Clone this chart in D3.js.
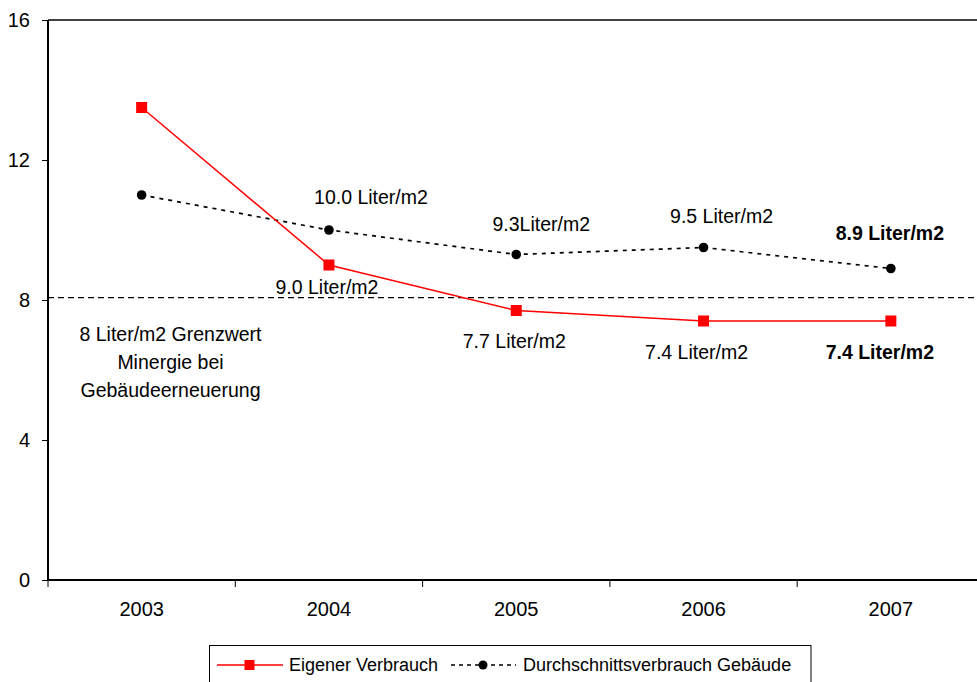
<!DOCTYPE html>
<html><head><meta charset="utf-8">
<script src="https://cdn.jsdelivr.net/npm/d3@7"></script>
<style>
body{margin:0;background:#fff;}
text{font-family:"Liberation Sans",Arial,sans-serif;}
</style></head>
<body><svg id="c" width="977" height="682"></svg>
<script>
const years = ["2003","2004","2005","2006","2007"];
const eigener = [13.5, 9.0, 7.7, 7.4, 7.4];
const durchschnitt = [11.0, 10.0, 9.3, 9.5, 8.9];
const grenzwert = 8.07;
const yTicks = [0, 4, 8, 12, 16];
const eigenerLabels = [null, "9.0 Liter/m2", "7.7 Liter/m2", "7.4 Liter/m2", "7.4 Liter/m2"];
const durchLabels = [null, "10.0 Liter/m2", "9.3Liter/m2", "9.5 Liter/m2", "8.9 Liter/m2"];
const grenzLabel = ["8 Liter/m2 Grenzwert", "Minergie bei", "Gebäudeerneuerung"];
const legendNames = ["Eigener Verbrauch", "Durchschnittsverbrauch Gebäude"];

// layout
const eigOff = [null, [-2, 22], [-2, 30], [-7, 31], [-11, 31]];
const durOff = [null, [42, -33], [25, -31], [18, -32], [-1, -36]];
const boldIdx = 4;
const FS = 19.5;

const svg = d3.select("#c");
const L = 48, R = 984.5, T = 20, B = 580;
const x = d3.scaleBand().domain(years).range([L, R]);
const y = d3.scaleLinear().domain([0, 16]).range([B, T]);
const cx = d => x(d) + x.bandwidth() / 2;

// frame: top line
svg.append("line").attr("x1", L).attr("x2", R).attr("y1", T).attr("y2", T)
  .attr("stroke", "#000").attr("stroke-width", 1.5);

// y axis
const ya = svg.append("g").attr("transform", `translate(${L},0)`)
  .call(d3.axisLeft(y).tickValues(yTicks).tickSize(6).tickPadding(12).tickFormat(d3.format("d")));
ya.select(".domain").attr("stroke-width", 2).attr("d", `M0,${B}V${T}`);
ya.selectAll("text").attr("font-size", 20).attr("fill", "#000").attr("font-family", "Liberation Sans, Arial");

// x axis
const xa = svg.append("g").attr("transform", `translate(0,${B})`)
  .call(d3.axisBottom(x).tickSize(0).tickPadding(22));
xa.select(".domain").attr("stroke-width", 2).attr("d", `M${L},0H${R}`);
xa.selectAll("text").attr("font-size", 20).attr("fill", "#000").attr("font-family", "Liberation Sans, Arial");
// category boundary ticks
xa.selectAll(".bt").data(years.concat(["end"])).enter().append("line")
  .attr("x1", (d, i) => L + i * x.bandwidth()).attr("x2", (d, i) => L + i * x.bandwidth())
  .attr("y1", 0).attr("y2", 7).attr("stroke", "#000").attr("stroke-width", 1);

// Grenzwert dashed line
svg.append("line").attr("x1", L).attr("x2", R).attr("y1", y(grenzwert)).attr("y2", y(grenzwert))
  .attr("stroke", "#000").attr("stroke-width", 1.3).attr("stroke-dasharray", "6,4");

// Durchschnitt line
const line = d3.line().x((d, i) => cx(years[i])).y(d => y(d));
svg.append("path").datum(durchschnitt).attr("d", line).attr("fill", "none")
  .attr("stroke", "#000").attr("stroke-width", 1.7).attr("stroke-dasharray", "4,5");
svg.selectAll(".dc").data(durchschnitt).enter().append("circle")
  .attr("cx", (d, i) => cx(years[i])).attr("cy", d => y(d)).attr("r", 4.8).attr("fill", "#000");

// Eigener line
svg.append("path").datum(eigener).attr("d", line).attr("fill", "none")
  .attr("stroke", "#ff0000").attr("stroke-width", 1.5);
svg.selectAll(".es").data(eigener).enter().append("rect")
  .attr("x", (d, i) => cx(years[i]) - 5.5).attr("y", d => y(d) - 5.5)
  .attr("width", 11).attr("height", 11).attr("fill", "#ff0000");

// data labels
function addLabels(vals, labels, offs) {
  vals.forEach((v, i) => {
    if (!labels[i]) return;
    svg.append("text").attr("x", cx(years[i]) + offs[i][0]).attr("y", y(v) + offs[i][1])
      .attr("text-anchor", "middle").attr("dominant-baseline", "central")
      .attr("font-size", FS).attr("font-weight", i === boldIdx ? "bold" : "normal")
      .attr("fill", "#000").text(labels[i]);
  });
}
addLabels(durchschnitt, durchLabels, durOff);
addLabels(eigener, eigenerLabels, eigOff);

// Grenzwert label
grenzLabel.forEach((t, i) => {
  svg.append("text").attr("x", 170.5).attr("y", y(grenzwert) + 36 + i * 28)
    .attr("text-anchor", "middle").attr("dominant-baseline", "central")
    .attr("font-size", FS).attr("fill", "#000").text(t);
});

// legend
const lg = svg.append("g");
lg.append("rect").attr("x", 209.5).attr("y", 645.5).attr("width", 601.5).attr("height", 50)
  .attr("fill", "#fff").attr("stroke", "#000").attr("stroke-width", 1);
const ly = 665;
lg.append("line").attr("x1", 217).attr("x2", 283).attr("y1", ly).attr("y2", ly)
  .attr("stroke", "#ff0000").attr("stroke-width", 1.5);
lg.append("rect").attr("x", 244.5).attr("y", ly - 5).attr("width", 10).attr("height", 10).attr("fill", "#ff0000");
lg.append("text").attr("x", 289).attr("y", ly).attr("dominant-baseline", "central")
  .attr("font-size", 18).attr("fill", "#000").text(legendNames[0]);
lg.append("line").attr("x1", 451).attr("x2", 516).attr("y1", ly).attr("y2", ly)
  .attr("stroke", "#000").attr("stroke-width", 1.5).attr("stroke-dasharray", "4,4");
lg.append("circle").attr("cx", 483).attr("cy", ly).attr("r", 4.5).attr("fill", "#000");
lg.append("text").attr("x", 523).attr("y", ly).attr("dominant-baseline", "central")
  .attr("font-size", 18).attr("fill", "#000").text(legendNames[1]);
</script></body></html>
